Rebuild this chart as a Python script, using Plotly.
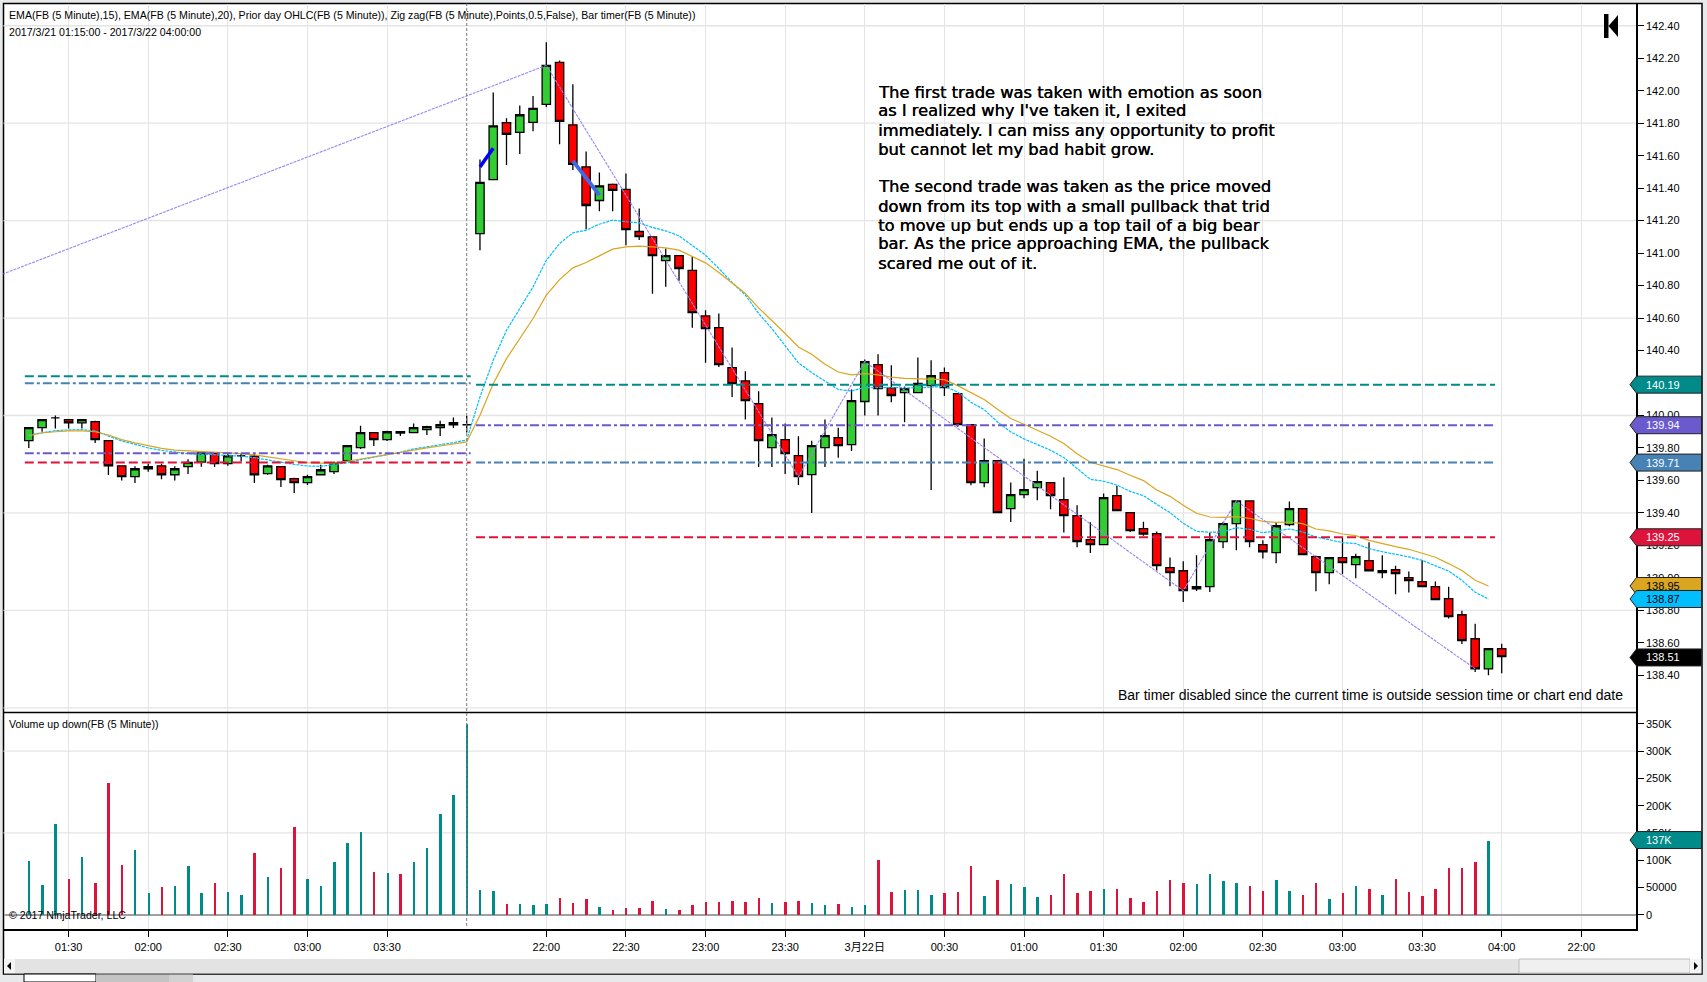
import plotly.graph_objects as go

W = 1707
H = 982

opens = [139.845, 139.925, 139.985, 139.975, 139.955, 139.962, 139.845, 139.69, 139.623, 139.672,
         139.69, 139.635, 139.685, 139.713, 139.769, 139.703, 139.752, 139.75, 139.642, 139.685,
         139.611, 139.586, 139.635, 139.654, 139.72, 139.802, 139.894, 139.851, 139.90, 139.894,
         139.913, 139.925, 139.943, 139.943, 141.12, 141.453, 141.803, 141.743, 141.805, 141.916,
         142.174, 141.79, 141.531, 141.324, 141.423, 141.392, 141.133, 141.10, 140.954, 140.985,
         140.893, 140.613, 140.541, 140.295, 140.213, 140.073, 139.802, 139.851, 139.753, 139.636,
         139.802, 139.864, 139.82, 140.086, 140.313, 140.17, 140.141, 140.141, 140.184, 140.264,
         140.135, 139.944, 139.587, 139.722, 139.426, 139.513, 139.556, 139.587, 139.482, 139.383,
         139.235, 139.205, 139.506, 139.402, 139.303, 139.272, 139.063, 139.044, 138.933, 138.946,
         139.223, 139.334, 139.474, 139.205, 139.155, 139.328, 139.426, 139.131, 139.032, 139.125,
         139.081, 139.106, 139.032, 139.05, 139.001, 138.977, 138.946, 138.872, 138.773, 138.625,
         138.44, 138.564]
highs = [139.925, 139.975, 140.0, 139.975, 139.975, 139.968, 139.845, 139.69, 139.687, 139.703,
         139.703, 139.687, 139.73, 139.769, 139.773, 139.769, 139.769, 139.765, 139.697, 139.685,
         139.617, 139.635, 139.697, 139.716, 139.814, 139.937, 139.894, 139.906, 139.90, 139.95,
         139.937, 139.968, 139.987, 139.997, 141.577, 141.989, 141.83, 141.909, 141.967, 142.298,
         142.186, 142.039, 141.626, 141.496, 141.429, 141.49, 141.275, 141.10, 141.028, 140.985,
         140.977, 140.648, 140.628, 140.418, 140.272, 140.149, 139.987, 139.95, 139.872, 139.845,
         139.975, 139.925, 140.16, 140.344, 140.377, 140.31, 140.178, 140.357, 140.34, 140.295,
         140.135, 139.944, 139.858, 139.722, 139.587, 139.734, 139.66, 139.587, 139.619, 139.447,
         139.342, 139.519, 139.568, 139.402, 139.346, 139.285, 139.126, 139.102, 139.139, 139.278,
         139.346, 139.474, 139.474, 139.231, 139.342, 139.47, 139.426, 139.137, 139.125, 139.25,
         139.149, 139.219, 139.139, 139.075, 139.04, 139.108, 138.977, 138.946, 138.798, 138.718,
         138.564, 138.595]
lows = [139.80, 139.90, 139.92, 139.92, 139.92, 139.83, 139.633, 139.60, 139.584, 139.654,
        139.607, 139.60, 139.64, 139.685, 139.683, 139.69, 139.716, 139.584, 139.635, 139.559,
        139.522, 139.572, 139.633, 139.64, 139.716, 139.794, 139.812, 139.843, 139.874, 139.894,
        139.88, 139.874, 139.923, 139.896, 141.018, 141.453, 141.542, 141.61, 141.751, 141.899,
        141.671, 141.511, 141.147, 141.258, 141.258, 141.049, 141.08, 140.749, 140.792, 140.829,
        140.54, 140.324, 140.299, 140.114, 139.975, 139.683, 139.683, 139.64, 139.572, 139.40,
        139.683, 139.739, 139.782, 140.0, 140.0, 140.082, 139.958, 140.141, 139.541, 140.12,
        139.93, 139.57, 139.558, 139.402, 139.344, 139.49, 139.478, 139.422, 139.28, 139.188,
        139.153, 139.205, 139.414, 139.283, 139.26, 139.046, 138.948, 138.851, 138.919, 138.913,
        139.182, 139.17, 139.188, 139.12, 139.09, 139.318, 139.143, 138.917, 138.96, 139.022,
        138.997, 139.044, 138.997, 138.899, 138.91, 138.946, 138.866, 138.75, 138.593, 138.42,
        138.40, 138.412]
closes = [139.925, 139.975, 139.985, 139.955, 139.975, 139.851, 139.69, 139.623, 139.672, 139.685,
          139.635, 139.672, 139.711, 139.769, 139.703, 139.752, 139.752, 139.635, 139.69, 139.605,
          139.586, 139.623, 139.666, 139.709, 139.814, 139.894, 139.851, 139.90, 139.892, 139.925,
          139.931, 139.943, 139.956, 139.943, 141.435, 141.784, 141.731, 141.852, 141.891, 142.156,
          141.811, 141.546, 141.293, 141.414, 141.386, 141.145, 141.102, 140.985, 140.985, 140.905,
          140.634, 140.535, 140.313, 140.196, 140.092, 139.845, 139.882, 139.765, 139.624, 139.814,
          139.876, 139.814, 140.092, 140.332, 140.166, 140.123, 140.166, 140.197, 140.246, 140.172,
          139.944, 139.587, 139.722, 139.402, 139.513, 139.543, 139.593, 139.506, 139.383, 139.223,
          139.205, 139.494, 139.414, 139.291, 139.27, 139.075, 139.032, 138.921, 138.946, 139.235,
          139.334, 139.474, 139.223, 139.161, 139.321, 139.426, 139.143, 139.032, 139.125, 139.094,
          139.131, 139.044, 139.044, 139.026, 138.983, 138.946, 138.866, 138.761, 138.613, 138.44,
          138.564, 138.515]

ema15 = [139.880, 139.894, 139.907, 139.911, 139.913, 139.905, 139.876, 139.843, 139.822, 139.800,
         139.785, 139.775, 139.765, 139.761, 139.759, 139.752, 139.750, 139.740, 139.728, 139.713,
         139.699, 139.689, 139.687, 139.699, 139.709, 139.728, 139.744, 139.761, 139.773, 139.794,
         139.806, 139.818, 139.833, 139.849, 140.114, 140.340, 140.525, 140.658, 140.792, 140.956,
         141.059, 141.125, 141.141, 141.178, 141.203, 141.193, 141.186, 141.158, 141.137, 141.106,
         141.049, 140.987, 140.905, 140.819, 140.741, 140.628, 140.535, 140.427, 140.324, 140.264,
         140.213, 140.160, 140.151, 140.172, 140.172, 140.170, 140.168, 140.170, 140.174, 140.180,
         140.145, 140.082, 140.036, 139.960, 139.899, 139.856, 139.821, 139.786, 139.741, 139.673,
         139.607, 139.595, 139.572, 139.533, 139.506, 139.453, 139.402, 139.336, 139.287, 139.281,
         139.283, 139.309, 139.299, 139.278, 139.289, 139.301, 139.283, 139.252, 139.235, 139.217,
         139.211, 139.180, 139.161, 139.145, 139.129, 139.108, 139.075, 139.042, 138.985, 138.911,
         138.87]
ema20 = [139.876, 139.892, 139.900, 139.905, 139.905, 139.900, 139.880, 139.851, 139.831, 139.814,
         139.798, 139.787, 139.783, 139.777, 139.773, 139.769, 139.765, 139.757, 139.744, 139.732,
         139.718, 139.709, 139.707, 139.707, 139.718, 139.732, 139.746, 139.761, 139.773, 139.787,
         139.800, 139.812, 139.824, 139.837, 140.001, 140.196, 140.350, 140.474, 140.597, 140.741,
         140.837, 140.909, 140.942, 140.983, 141.024, 141.038, 141.043, 141.038, 141.032, 141.018,
         140.981, 140.940, 140.880, 140.817, 140.751, 140.663, 140.587, 140.505, 140.422, 140.377,
         140.316, 140.268, 140.250, 140.258, 140.250, 140.236, 140.229, 140.225, 140.223, 140.221,
         140.184, 140.139, 140.098, 140.038, 139.981, 139.946, 139.909, 139.872, 139.827, 139.765,
         139.712, 139.689, 139.667, 139.632, 139.599, 139.541, 139.502, 139.447, 139.398, 139.375,
         139.373, 139.377, 139.367, 139.348, 139.342, 139.344, 139.334, 139.301, 139.289, 139.270,
         139.260, 139.231, 139.211, 139.192, 139.176, 139.151, 139.127, 139.088, 139.046, 138.985,
         138.95]

volume = [100000, 56000, 168000, 67000, 106000, 60000, 242000, 93000, 119000, 40000,
          51000, 53000, 91000, 40000, 60000, 42000, 38000, 115000, 71000, 86000,
          161000, 67000, 53000, 97000, 132000, 152000, 80000, 78000, 76000, 97000,
          124000, 185000, 220000, 350000, 47000, 45000, 20000, 21000, 18000, 21000,
          31000, 23000, 29000, 16000, 10000, 14000, 14000, 27000, 12000, 10000,
          18000, 25000, 25000, 27000, 25000, 32000, 23000, 25000, 27000, 23000,
          18000, 21000, 16000, 18000, 102000, 42000, 47000, 47000, 38000, 40000,
          43000, 91000, 36000, 64000, 58000, 51000, 34000, 38000, 75000, 40000,
          45000, 49000, 49000, 31000, 25000, 45000, 64000, 60000, 58000, 75000,
          62000, 60000, 54000, 45000, 64000, 45000, 38000, 60000, 29000, 40000,
          53000, 49000, 38000, 67000, 42000, 36000, 49000, 86000, 86000, 97000,
          137000]
# u = teal bar, d = red bar, ten bars a row
dir_rows = [
    "uuududdduu",
    "duuuduudud",
    "duuuuududu",
    "uuuuuuduuu",
    "ddduddddud",
    "dddddduddu",
    "uduudduuud",
    "dduduuuddd",
    "dudddddduu",
    "uudduuddud",
    "ududddddddu",
]
volume_dir = list("".join(dir_rows))

bar_idx = list(range(len(closes)))

# prior day OHLC levels, one value per session
prior_start = [-0.3, 33.7]
prior_end = [33.3, 110.5]
high_level = [140.241, 140.19]
open_level = [140.198, 139.71]
close_level = [139.767, 139.94]
low_level = [139.711, 139.25]

zig_idx = [-2, 39, 58, 63, 87, 91, 109]
zig_price = [140.87, 142.156, 139.624, 140.332, 138.921, 139.474, 138.44]

trade1_idx = [34, 35]
trade1_price = [141.531, 141.645]
trade2_idx = [41, 43]
trade2_price = [141.568, 141.357]

session_break = 33

tick_idx = [3, 9, 15, 21, 27, 39, 45, 51, 57, 63, 69, 75, 81, 87, 93, 99, 105, 111, 117]
tick_text = ["01:30", "02:00", "02:30", "03:00", "03:30", "22:00", "22:30", "23:00", "23:30",
             "3月22日", "00:30", "01:00", "01:30", "02:00", "02:30", "03:00", "03:30", "04:00", "22:00"]
price_ticks = [142.4 - 0.2 * k for k in range(21)]
price_grid = [142.4, 141.8, 141.2, 140.6, 140.0, 139.4, 138.8, 138.2]
vol_ticks = [0, 50000, 100000, 150000, 200000, 250000, 300000, 350000]
vol_labels = ["0", "50000", "100K", "150K", "200K", "250K", "300K", "350K"]
vol_grid = [150000, 300000]

# tag value, fill, text colour, axis
tags = [("140.19", "#008B8B", "white", "y"), ("139.94", "#6A5ACD", "white", "y"),
        ("139.71", "#4682B4", "white", "y"), ("139.25", "#DC143C", "white", "y"),
        ("138.95", "#DAA520", "black", "y"), ("138.87", "#00BFFF", "black", "y"),
        ("138.51", "#000000", "white", "y")]

note_lines = ["The first trade was taken with emotion as soon",
              "as I realized why I've taken it, I exited",
              "immediately. I can miss any opportunity to profit",
              "but cannot let my bad habit grow.",
              "",
              "The second trade was taken as the price moved",
              "down from its top with a small pullback that trid",
              "to move up but ends up a top tail of a big bear",
              "bar. As the price approaching EMA, the pullback",
              "scared me out of it."]

FONT = "Liberation Sans, Arial, Noto Sans CJK SC"


def px(x):
    return x / W


def py(y):
    return 1 - y / H


fig = go.Figure()

fig.add_trace(go.Candlestick(
    x=bar_idx, open=opens, high=highs, low=lows, close=closes,
    increasing=dict(fillcolor="#32CD32", line=dict(color="black", width=1.3)),
    decreasing=dict(fillcolor="#FF0000", line=dict(color="black", width=1.3)),
    whiskerwidth=0, xaxis="x", yaxis="y", hoverinfo="skip"))

fig.add_trace(go.Scatter(x=bar_idx, y=ema15, mode="lines", xaxis="x", yaxis="y",
                         line=dict(color="#00BFFF", width=1.2, dash="3px,1px")))
fig.add_trace(go.Scatter(x=bar_idx, y=ema20, mode="lines", xaxis="x", yaxis="y",
                         line=dict(color="#DAA520", width=1.2)))
fig.add_trace(go.Scatter(x=zig_idx, y=zig_price, mode="lines", xaxis="x", yaxis="y",
                         line=dict(color="#9A84F2", width=1.1, dash="3px,1px")))

dash_style = "9px,4px"
dashdot_style = "9px,3px,3px,3px"
for levels, color, dash in [(high_level, "#008B8B", dash_style),
                            (open_level, "#4682B4", dashdot_style),
                            (close_level, "#6A5ACD", dashdot_style),
                            (low_level, "#DC143C", dash_style)]:
    for k in range(2):
        fig.add_trace(go.Scatter(x=[prior_start[k], prior_end[k]], y=[levels[k], levels[k]],
                                 mode="lines", xaxis="x", yaxis="y",
                                 line=dict(color=color, width=2, dash=dash)))

fig.add_trace(go.Scatter(x=trade1_idx, y=trade1_price, mode="lines", xaxis="x", yaxis="y",
                         line=dict(color="#0000FF", width=3.5)))
fig.add_trace(go.Scatter(x=trade2_idx, y=trade2_price, mode="lines", xaxis="x", yaxis="y",
                         line=dict(color="#4169E1", width=4)))

fig.add_trace(go.Bar(x=bar_idx[:len(volume)], y=volume, width=0.15, xaxis="x2", yaxis="y2",
                     marker=dict(color=["#008B8B" if d == "u" else "#DC143C" for d in volume_dir],
                                 line=dict(width=0))))

grid_color = "#E4E4E4"
fig.update_layout(
    width=W, height=H, margin=dict(l=0, r=0, t=0, b=0),
    paper_bgcolor="#E8E9EA", plot_bgcolor="rgba(0,0,0,0)",
    showlegend=False, boxgap=0.37, boxgroupgap=0, bargap=0,
    font=dict(family=FONT, size=11, color="black"),
    hovermode=False,
    xaxis=dict(domain=[px(3.5), px(1636)], range=[-1.907, 121.12], anchor="y",
               tickvals=tick_idx, ticktext=[""] * len(tick_idx), ticks="",
               showgrid=True, gridcolor=grid_color, gridwidth=1, zeroline=False,
               rangeslider=dict(visible=False), showline=False),
    yaxis=dict(domain=[py(712.5), py(3.5)], range=[138.171, 142.537], side="right", anchor="x",
               tickvals=price_ticks, tickformat=".2f", ticks="outside", ticklen=6, tickcolor="black",
               showgrid=False, zeroline=False, showline=True, linecolor="black", linewidth=1.5),
    xaxis2=dict(domain=[px(3.5), px(1636)], range=[-1.907, 121.12], anchor="y2",
                tickvals=tick_idx, ticktext=tick_text, ticks="outside", ticklen=6, tickcolor="black",
                showgrid=True, gridcolor=grid_color, gridwidth=1, zeroline=False,
                showline=True, linecolor="black", linewidth=1.5, tickangle=0, ticklabelstandoff=1),
    yaxis2=dict(domain=[py(929), py(712.5)], range=[-26200, 371000], side="right", anchor="x2",
                tickvals=vol_ticks, ticktext=vol_labels, ticks="outside", ticklen=6, tickcolor="black",
                showgrid=False, zeroline=True, zerolinecolor="#A0A0A0", zerolinewidth=2,
                showline=True, linecolor="black", linewidth=1.5),
)

shapes = []
# white window body
shapes.append(dict(type="rect", xref="paper", yref="paper", layer="below", x0=px(3.5), x1=px(1702),
                   y0=py(974), y1=py(3.5), fillcolor="white", line=dict(color="black", width=1.5)))
# scroll bar strip
shapes.append(dict(type="rect", xref="paper", yref="paper", layer="below", x0=px(4), x1=px(1701.5),
                   y0=py(973.5), y1=py(959), fillcolor="#E3E3E4", line=dict(width=0)))
shapes.append(dict(type="rect", xref="paper", yref="paper", layer="below", x0=px(1519), x1=px(1690),
                   y0=py(973), y1=py(959), fillcolor="#F0F0F0", line=dict(color="#BDBDBD", width=1)))
shapes.append(dict(type="rect", xref="paper", yref="paper", layer="below", x0=px(4), x1=px(15),
                   y0=py(973), y1=py(959), fillcolor="#F4F4F4", line=dict(width=0)))
shapes.append(dict(type="rect", xref="paper", yref="paper", layer="below", x0=px(1690), x1=px(1701),
                   y0=py(973), y1=py(959), fillcolor="#F4F4F4", line=dict(width=0)))
shapes.append(dict(type="path", xref="paper", yref="paper", fillcolor="black", line=dict(width=0),
                   path=f"M {px(7)} {py(966)} L {px(11)} {py(962)} L {px(11)} {py(970)} Z"))
shapes.append(dict(type="path", xref="paper", yref="paper", fillcolor="black", line=dict(width=0),
                   path=f"M {px(1698)} {py(966)} L {px(1694)} {py(962)} L {px(1694)} {py(970)} Z"))
# tab strip under the window
shapes.append(dict(type="rect", xref="paper", yref="paper", layer="below", x0=px(24), x1=px(96),
                   y0=0, y1=py(974), fillcolor="white", line=dict(color="black", width=1)))
shapes.append(dict(type="rect", xref="paper", yref="paper", layer="below", x0=px(96), x1=px(169),
                   y0=0, y1=py(974.5), fillcolor="#C4C4C4", line=dict(width=0)))
shapes.append(dict(type="rect", xref="paper", yref="paper", layer="below", x0=px(169), x1=px(193),
                   y0=0, y1=py(974.5), fillcolor="#D2D2D2", line=dict(width=0)))
# pane divider
shapes.append(dict(type="line", xref="paper", yref="paper", x0=px(3.5), x1=px(1636), y0=py(712.5), y1=py(712.5),
                   line=dict(color="black", width=1.5)))
# go-to-end button
shapes.append(dict(type="rect", xref="paper", yref="paper", x0=px(1604), x1=px(1608.5), y0=py(38), y1=py(14),
                   fillcolor="black", line=dict(width=0)))
shapes.append(dict(type="path", xref="paper", yref="paper", fillcolor="black", line=dict(width=0),
                   path=f"M {px(1608.5)} {py(26)} L {px(1618)} {py(15)} L {px(1618)} {py(37)} Z"))
# session break
shapes.append(dict(type="line", xref="x", yref="paper", x0=session_break, x1=session_break,
                   y0=py(926), y1=py(3.5), line=dict(color="#7A7A7A", width=1, dash="3px,2px")))
for val in price_grid:
    shapes.append(dict(type="line", xref="paper", yref="y", layer="below", x0=px(3.5), x1=px(1636),
                       y0=val, y1=val, line=dict(color=grid_color, width=1.3)))
for val in vol_grid:
    shapes.append(dict(type="line", xref="paper", yref="y2", layer="below", x0=px(3.5), x1=px(1636),
                       y0=val, y1=val, line=dict(color=grid_color, width=1.3)))


def tag(val, fill, yref):
    return dict(type="path", xref="paper", yref=yref, xsizemode="pixel", ysizemode="pixel",
                xanchor=px(1636.5), yanchor=val, fillcolor=fill, line=dict(color="#222222", width=1),
                path="M -6.5 0 L 0 -8.5 L 65 -8.5 L 65 8.5 L 0 8.5 Z")


annotations = []


def add_text(text, x, y, size=10.6, color="black", family=FONT, anchor="left", yref="paper", shadow=None):
    font = dict(family=family, size=size, color=color)
    if shadow:
        font["shadow"] = shadow
    annotations.append(dict(text=text, xref="paper", yref=yref, x=x, y=y, showarrow=False,
                            xanchor=anchor, yanchor="middle", align=anchor, font=font,
                            borderpad=0, borderwidth=0))


for text, fill, txt, ax in tags:
    shapes.append(tag(float(text), fill, ax))
    add_text(text, px(1645.5), float(text), size=11, color=txt, yref=ax)
shapes.append(tag(137000, "#008B8B", "y2"))
add_text("137K", px(1645.5), 137000, size=11, color="white", yref="y2")

add_text("EMA(FB (5 Minute),15), EMA(FB (5 Minute),20), Prior day OHLC(FB (5 Minute)), "
         "Zig zag(FB (5 Minute),Points,0.5,False), Bar timer(FB (5 Minute))", px(9), py(15))
add_text("2017/3/21 01:15:00 - 2017/3/22 04:00:00", px(9), py(32))
add_text("Volume up down(FB (5 Minute))", px(9), py(724))
add_text("© 2017 NinjaTrader, LLC", px(9), py(915))
add_text("Bar timer disabled since the current time is outside session time or chart end date",
         px(1623), py(695), size=14, anchor="right")

for k, line in enumerate(note_lines):
    if line:
        add_text(line, px(877.5), py(92 + 19 * k), size=16.3, family="DejaVu Sans",
                 shadow="0.4px 0 0 #000000")

fig.update_layout(shapes=shapes, annotations=annotations)

fig.write_html("out.html", config={"displayModeBar": False},
               post_script="document.body.style.margin='0';document.body.style.overflow='hidden';")
